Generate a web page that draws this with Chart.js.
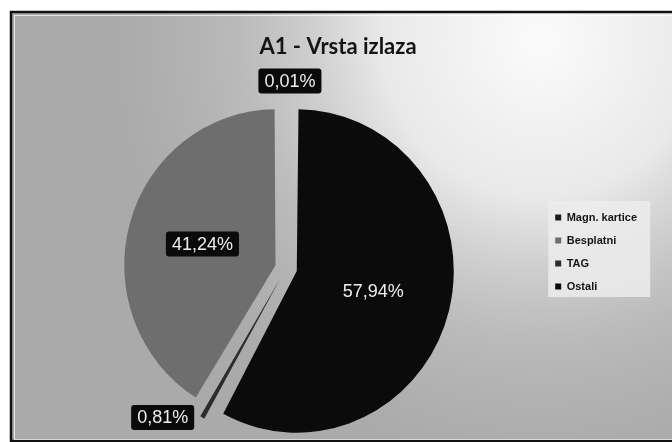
<!DOCTYPE html>
<html>
<head>
<meta charset="utf-8">
<script src="https://cdn.jsdelivr.net/npm/chart.js@4.4.1/dist/chart.umd.min.js"></script>
<style>
  html, body { margin: 0; padding: 0; background: #fff; }
  #wrap { width: 672px; height: 442px; position: relative; }
</style>
</head>
<body>
<div id="wrap"><canvas id="c" width="672" height="442"></canvas></div>
<script>
// slices in drawing order (clockwise from 12 o'clock); legend lists them reversed
const categories = ['Ostali', 'TAG', 'Besplatni', 'Magn. kartice'];
const shares = [57.94, 0.81, 41.24, 0.01];
const sliceColors = ['#0b0b0b', '#2c2c2c', '#6e6e6e', '#1c1c1c'];

// where each percentage box sits: radius factor and small angle nudge (deg)
const labelPlace = [
  { r: 0.54, da: 0, boxed: false },
  { r: 1.23, da: 11, boxed: true },
  { r: 0.52, da: 0, boxed: true },
  { r: 1.17, da: 1.3, boxed: true }
];

const EXPLODE = 11;     // px each slice is pulled out (chart.js v4 uses offset / 4)
const Y_STRETCH = 1.03; // the scanned pie is a bit taller than wide

const fmtPct = v => v.toFixed(2).replace('.', ',') + '%';

const backdrop = {
  id: 'backdrop',
  beforeDraw(chart) {
    const { ctx, width, height } = chart;
    ctx.save();
    ctx.fillStyle = '#ffffff';
    ctx.fillRect(0, 0, width, height);
    ctx.fillStyle = '#aaaaaa';
    ctx.fillRect(12, 13, width - 12, height - 13);
    const g = ctx.createRadialGradient(540, 40, 10, 540, 40, 430);
    g.addColorStop(0, 'rgba(250,250,250,1)');
    g.addColorStop(0.35, 'rgba(240,240,240,0.9)');
    g.addColorStop(0.7, 'rgba(215,215,215,0.35)');
    g.addColorStop(1, 'rgba(200,200,200,0)');
    ctx.fillStyle = g;
    ctx.fillRect(12, 13, width - 12, height - 13);
    // frame
    ctx.strokeStyle = '#111';
    ctx.lineWidth = 2.5;
    ctx.strokeRect(11, 12, width + 10, height - 13);
    ctx.strokeStyle = 'rgba(255,255,255,0.7)';
    ctx.lineWidth = 1;
    ctx.strokeRect(14.5, 15.5, width, height - 18);

    // lighter panel behind the legend
    const lg = chart.legend;
    if (lg && lg.legendHitBoxes && lg.legendHitBoxes.length) {
      const first = lg.legendHitBoxes[0];
      const last = lg.legendHitBoxes[lg.legendHitBoxes.length - 1];
      ctx.fillStyle = 'rgba(236,236,236,0.85)';
      ctx.fillRect(first.left - 7, first.top - 11, 102, last.top + last.height - first.top + 16);
    }
    ctx.restore();
  }
};

const stretch = {
  id: 'stretch',
  beforeDatasetsDraw(chart) {
    const arc = chart.getDatasetMeta(0).data[0];
    const { ctx } = chart;
    ctx.save();
    ctx.translate(arc.x, arc.y);
    ctx.scale(1, Y_STRETCH);
    ctx.translate(-arc.x, -arc.y);
  },
  afterDatasetsDraw(chart) {
    chart.ctx.restore();
  }
};

const pctLabels = {
  id: 'pctLabels',
  afterDatasetsDraw(chart) {
    const { ctx } = chart;
    const meta = chart.getDatasetMeta(0);
    const ds = chart.data.datasets[0];
    ctx.save();
    ctx.font = '18px "Liberation Sans", Arial, sans-serif';
    ctx.textAlign = 'center';
    ctx.textBaseline = 'middle';
    meta.data.forEach((arc, i) => {
      const p = arc.getProps(['x', 'y', 'startAngle', 'endAngle', 'outerRadius']);
      const mid = (p.startAngle + p.endAngle) / 2;
      const cx = p.x + Math.cos(mid) * EXPLODE;
      const cy = p.y + Math.sin(mid) * EXPLODE;
      const a = mid + labelPlace[i].da * Math.PI / 180;
      const lx = cx + Math.cos(a) * p.outerRadius * labelPlace[i].r;
      const ly0 = cy + Math.sin(a) * p.outerRadius * labelPlace[i].r;
      const ly = p.y + (ly0 - p.y) * Y_STRETCH;
      const txt = fmtPct(ds.data[i]);
      const tw = ctx.measureText(txt).width;
      if (labelPlace[i].boxed) {
        const w = tw + 12, h = 25;
        ctx.fillStyle = '#0a0a0a';
        ctx.beginPath();
        ctx.roundRect(lx - w / 2, ly - h / 2, w, h, 3);
        ctx.fill();
      }
      ctx.fillStyle = '#eeeeee';
      ctx.fillText(txt, lx, ly + 1);
    });
    ctx.restore();
  }
};

new Chart(document.getElementById('c'), {
  type: 'pie',
  data: {
    labels: categories,
    datasets: [{
      data: shares,
      backgroundColor: sliceColors,
      borderWidth: 0,
      offset: EXPLODE * 4,
      radius: 146
    }]
  },
  options: {
    responsive: false,
    animation: false,
    events: [],
    layout: { padding: { left: 29, right: 25, top: 19, bottom: 2 } },
    plugins: {
      title: {
        display: true,
        text: 'A1 - Vrsta izlaza',
        color: '#141414',
        font: { family: 'Lato, "Open Sans", sans-serif', size: 22, weight: 'bold', lineHeight: 1.2 },
        padding: { top: 15, bottom: 36 }
      },
      legend: {
        position: 'right',
        align: 'start',
        reverse: true,
        title: { display: true, text: '', font: { size: 10, lineHeight: 1.2 }, padding: { top: 169, bottom: 0 } },
        labels: {
          boxWidth: 6,
          boxHeight: 6,
          padding: 12,
          color: '#141414',
          font: { family: '"Liberation Sans", Arial, sans-serif', size: 11, weight: 'bold' }
        }
      },
      tooltip: { enabled: false }
    }
  },
  plugins: [backdrop, stretch, pctLabels]
});
</script>
</body>
</html>
